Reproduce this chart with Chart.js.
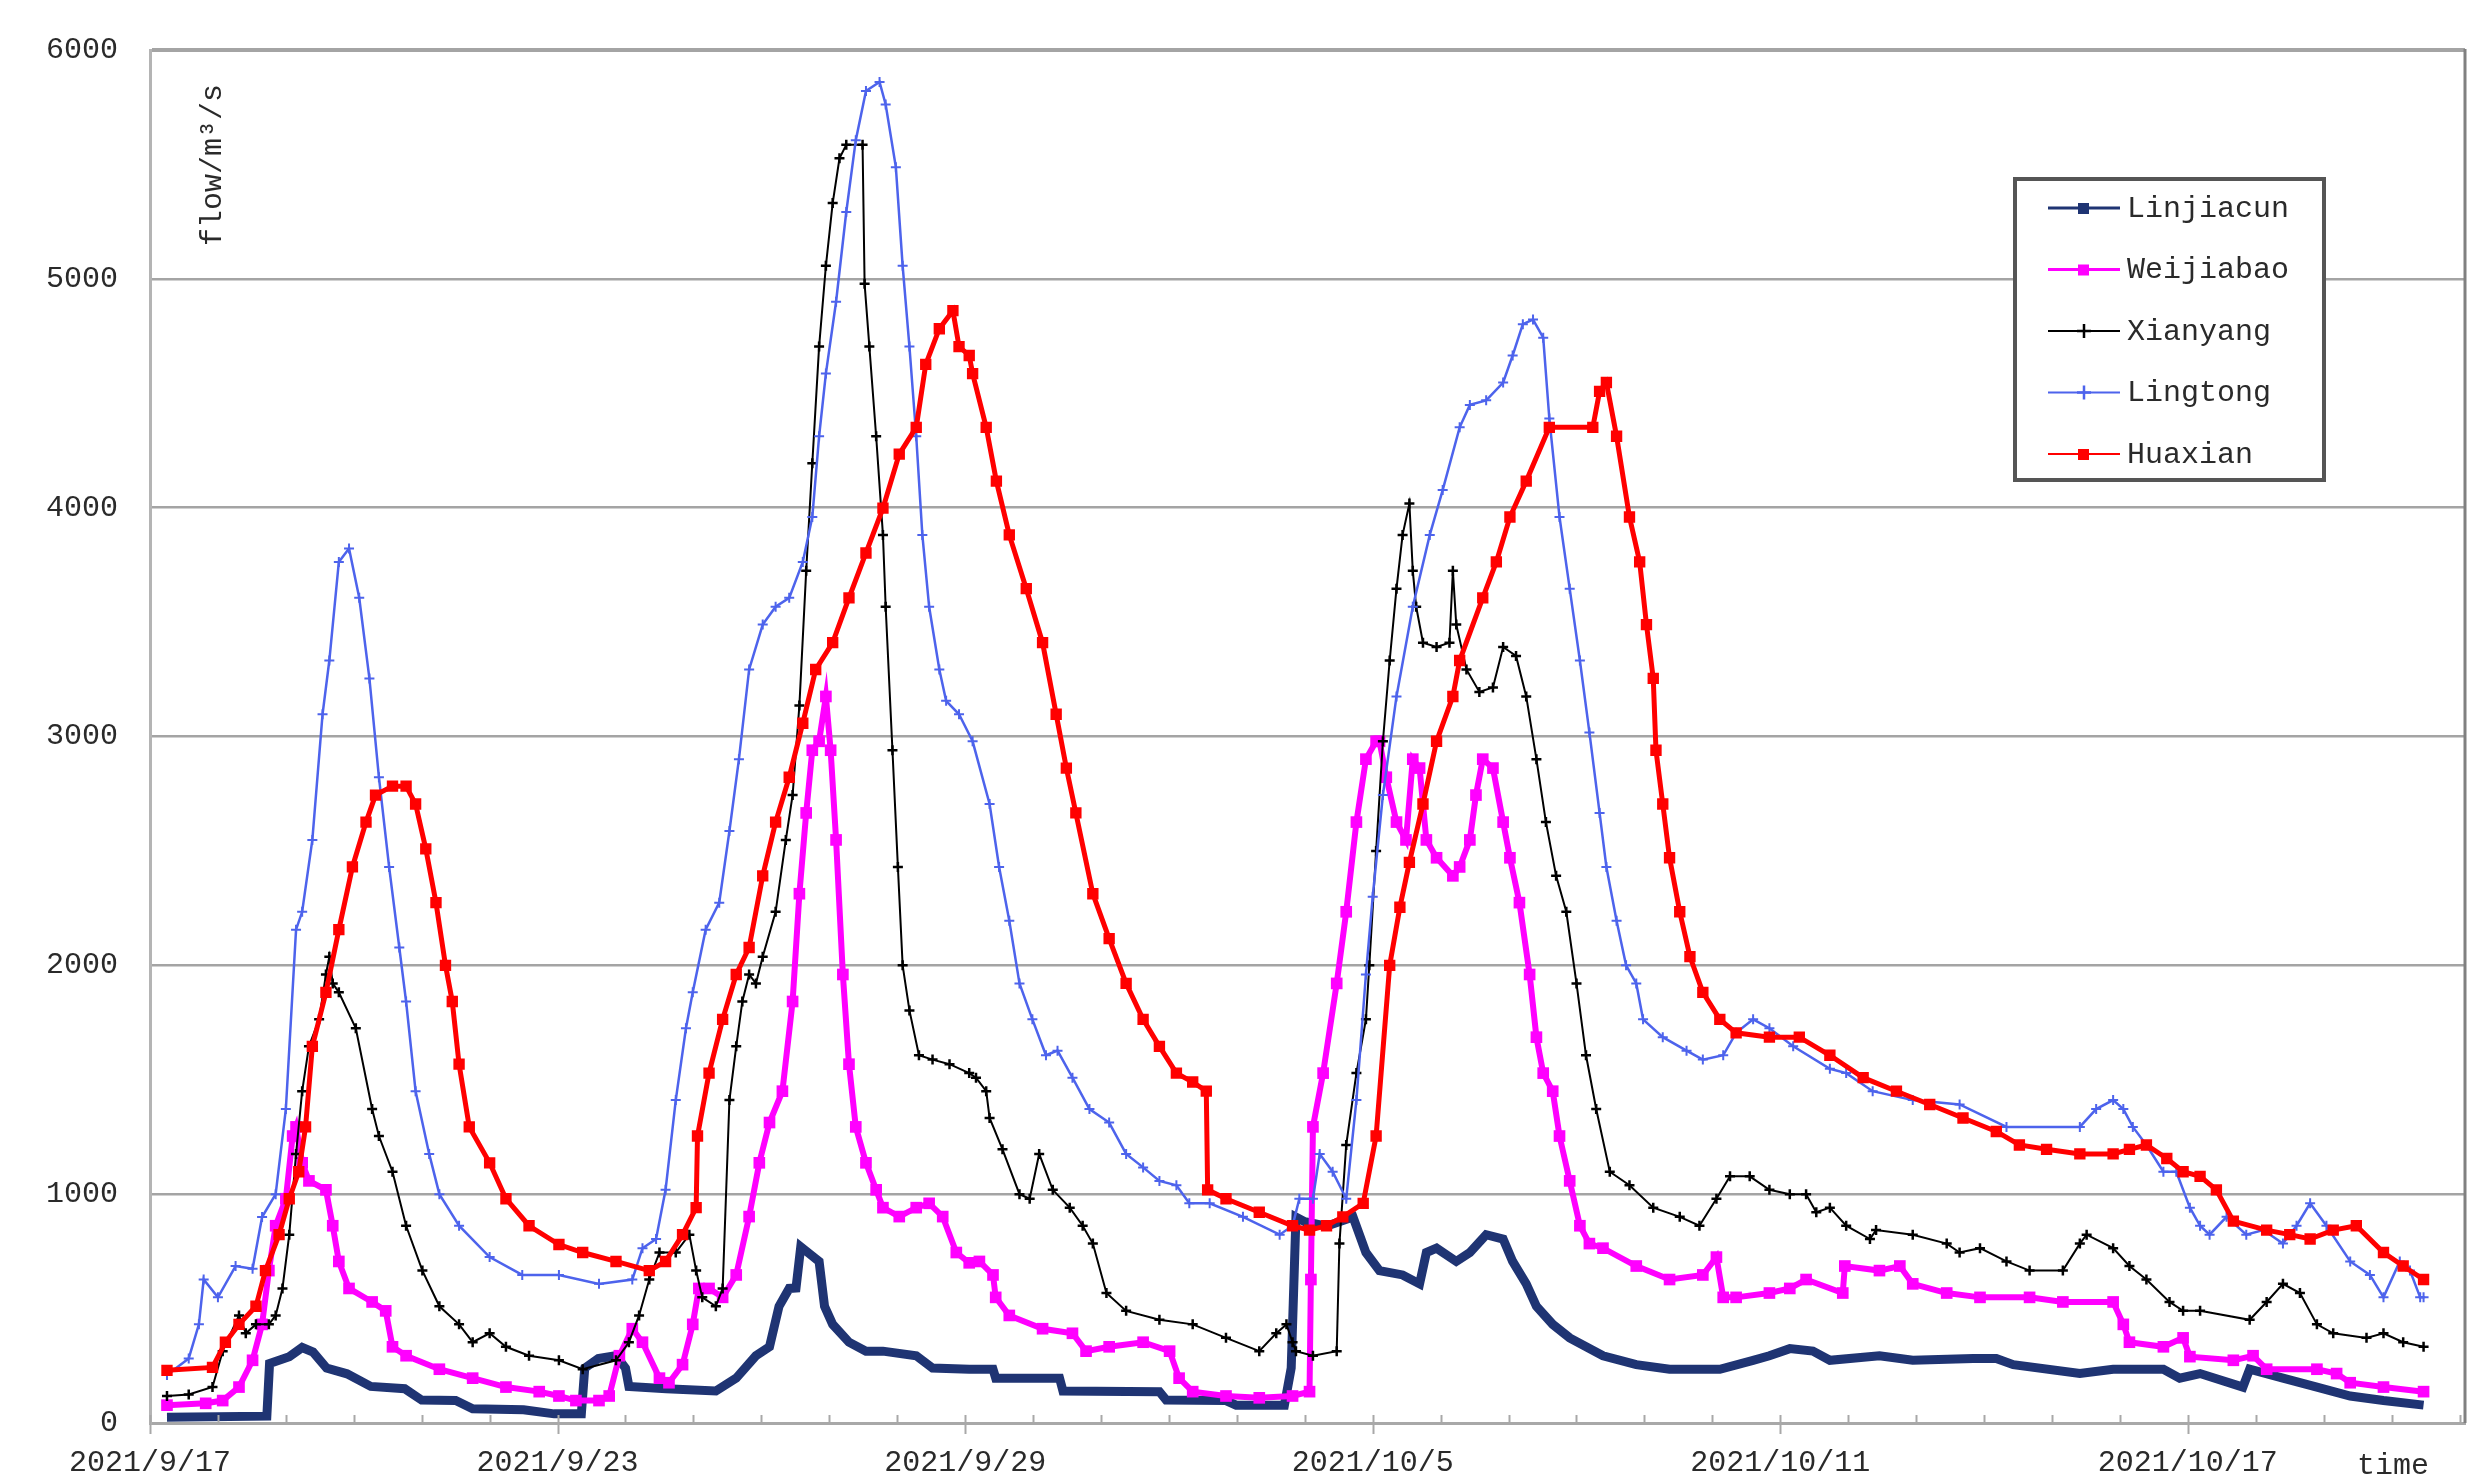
<!DOCTYPE html>
<html>
<head>
<meta charset="utf-8">
<script src="https://cdn.jsdelivr.net/npm/chart.js@4.4.1/dist/chart.umd.min.js"></script>
<style>
  html, body { margin: 0; padding: 0; background: #fff; }
  #wrap { position: relative; width: 2478px; height: 1480px; }
</style>
</head>
<body>
<div id="wrap"><canvas id="flowChart" width="2478" height="1480"></canvas></div>
<script>
// === FLOW HYDROGRAPH, 2021/9/17 - 2021/10/20 ===
// x = days since 2021/9/17 00:00, y = flow (m3/s)

var X_MAX = 34.08;
var xTickDays = [0, 6, 12, 18, 24, 30];
var xTickLabels = ['2021/9/17', '2021/9/23', '2021/9/29', '2021/10/5', '2021/10/11', '2021/10/17'];
var yMax = 6000;
var yStep = 1000;

var linjiacun = [
  [0.25, 25], [1.72, 30], [1.76, 260], [2.05, 290], [2.24, 330], [2.4, 310], [2.6, 240], [2.9, 215],
  [3.25, 160], [3.75, 150], [4.0, 100], [4.5, 98], [4.75, 62], [5.5, 58], [5.95, 40], [6.35, 40],
  [6.4, 240], [6.6, 282], [6.86, 294], [7.0, 240], [7.05, 160], [7.6, 150], [8.33, 140], [8.63, 196],
  [8.92, 294], [9.12, 333], [9.26, 510], [9.41, 588], [9.51, 590], [9.58, 770], [9.75, 730], [9.85, 706],
  [9.93, 510], [10.05, 431], [10.29, 353], [10.54, 314], [10.79, 314], [11.28, 294], [11.52, 240], [12.06, 235],
  [12.41, 235], [12.45, 196], [13.39, 196], [13.44, 140], [14.86, 137], [14.96, 100], [15.84, 98], [15.99, 78],
  [16.7, 78], [16.8, 240], [16.87, 900], [17.0, 880], [17.32, 860], [17.71, 900], [17.9, 745], [18.1, 666],
  [18.44, 647], [18.69, 608], [18.79, 745], [18.94, 764], [19.23, 706], [19.43, 745], [19.67, 823], [19.92, 804],
  [20.06, 706], [20.26, 608], [20.41, 510], [20.65, 431], [20.9, 372], [21.39, 294], [21.88, 255], [22.37, 235],
  [23.11, 235], [23.6, 274], [23.84, 294], [24.14, 325], [24.48, 314], [24.73, 274], [25.46, 294], [25.95, 274],
  [26.84, 282], [27.18, 282], [27.43, 255], [28.41, 216], [28.9, 235], [29.64, 235], [29.88, 196], [30.18, 216],
  [30.81, 157], [30.91, 235], [31.4, 196], [31.9, 157], [32.39, 118], [32.88, 98], [33.47, 78]
];

var weijiabao = [
  [0.25, 78], [0.82, 86], [1.07, 98], [1.31, 157], [1.51, 274], [1.65, 431], [1.75, 666], [1.85, 862],
  [2.0, 980], [2.1, 1254], [2.15, 1294], [2.24, 1137], [2.34, 1058], [2.59, 1019], [2.69, 862], [2.78, 706],
  [2.93, 588], [3.27, 529], [3.47, 490], [3.57, 333], [3.77, 294], [4.26, 235], [4.75, 196], [5.24, 157],
  [5.73, 137], [6.02, 118], [6.27, 98], [6.61, 98], [6.76, 118], [6.91, 294], [7.1, 412], [7.25, 353],
  [7.5, 196], [7.64, 176], [7.84, 255], [7.99, 431], [8.08, 588], [8.23, 588], [8.43, 549], [8.63, 647],
  [8.82, 902], [8.97, 1137], [9.12, 1313], [9.31, 1450], [9.46, 1842], [9.56, 2313], [9.66, 2666], [9.75, 2940],
  [9.85, 2979], [9.95, 3175], [10.02, 2940], [10.1, 2548], [10.2, 1960], [10.29, 1568], [10.39, 1294], [10.54, 1137],
  [10.69, 1019], [10.79, 941], [11.03, 902], [11.28, 941], [11.47, 960], [11.67, 902], [11.87, 745], [12.06, 700],
  [12.21, 706], [12.41, 647], [12.45, 549], [12.65, 470], [13.14, 412], [13.58, 392], [13.78, 314], [14.12, 333],
  [14.62, 353], [15.01, 314], [15.15, 196], [15.35, 137], [15.84, 118], [16.33, 110], [16.82, 118], [17.07, 137],
  [17.09, 627], [17.12, 1294], [17.27, 1529], [17.47, 1921], [17.61, 2234], [17.76, 2626], [17.9, 2901], [18.05, 2979],
  [18.1, 2979], [18.2, 2822], [18.35, 2626], [18.49, 2548], [18.59, 2901], [18.69, 2862], [18.79, 2548], [18.94, 2470],
  [19.18, 2391], [19.28, 2430], [19.43, 2548], [19.52, 2744], [19.62, 2901], [19.77, 2862], [19.92, 2626], [20.02, 2470],
  [20.16, 2274], [20.31, 1960], [20.41, 1686], [20.51, 1529], [20.65, 1450], [20.75, 1254], [20.9, 1058], [21.05, 862],
  [21.19, 784], [21.39, 764], [21.88, 686], [22.37, 627], [22.86, 647], [23.06, 725], [23.16, 549], [23.35, 549],
  [23.84, 568], [24.14, 588], [24.38, 627], [24.92, 568], [24.95, 686], [25.46, 666], [25.76, 686], [25.95, 608],
  [26.45, 568], [26.94, 549], [27.67, 549], [28.16, 529], [28.9, 529], [29.05, 431], [29.14, 353], [29.64, 333],
  [29.93, 372], [30.03, 290], [30.67, 274], [30.96, 294], [31.16, 235], [31.9, 235], [32.19, 216], [32.39, 176],
  [32.88, 157], [33.47, 137]
];

var xianyang = [
  [0.25, 118], [0.57, 125], [0.92, 157], [1.07, 314], [1.31, 470], [1.41, 392], [1.56, 431], [1.75, 431],
  [1.85, 470], [1.95, 588], [2.05, 823], [2.15, 1176], [2.24, 1450], [2.34, 1646], [2.49, 1764], [2.59, 1960],
  [2.64, 2038], [2.69, 1921], [2.78, 1882], [3.03, 1725], [3.27, 1372], [3.37, 1254], [3.57, 1098], [3.77, 862],
  [4.01, 666], [4.26, 510], [4.55, 431], [4.75, 353], [5.0, 392], [5.24, 333], [5.58, 294], [6.02, 274],
  [6.37, 235], [6.86, 274], [7.05, 353], [7.2, 470], [7.35, 627], [7.5, 745], [7.74, 745], [7.94, 823],
  [8.04, 666], [8.13, 549], [8.33, 510], [8.43, 588], [8.53, 1411], [8.63, 1646], [8.72, 1842], [8.82, 1960],
  [8.92, 1921], [9.02, 2038], [9.21, 2234], [9.36, 2548], [9.46, 2744], [9.56, 3136], [9.66, 3724], [9.75, 4194],
  [9.85, 4704], [9.95, 5057], [10.05, 5331], [10.15, 5527], [10.25, 5586], [10.49, 5586], [10.52, 4978], [10.59, 4704],
  [10.69, 4312], [10.79, 3881], [10.83, 3567], [10.93, 2940], [11.01, 2430], [11.08, 2000], [11.18, 1803], [11.32, 1607],
  [11.52, 1588], [11.77, 1568], [12.06, 1529], [12.16, 1509], [12.31, 1450], [12.36, 1333], [12.55, 1196], [12.8, 1000],
  [12.95, 980], [13.09, 1176], [13.29, 1019], [13.54, 941], [13.73, 862], [13.88, 784], [14.08, 568], [14.37, 490],
  [14.86, 451], [15.35, 431], [15.84, 372], [16.33, 314], [16.58, 392], [16.73, 431], [16.82, 353], [16.87, 314],
  [17.12, 294], [17.47, 314], [17.51, 784], [17.61, 1215], [17.76, 1529], [17.9, 1764], [17.95, 2000], [18.05, 2500],
  [18.15, 2979], [18.25, 3332], [18.35, 3646], [18.44, 3881], [18.54, 4018], [18.59, 3724], [18.64, 3567], [18.74, 3410],
  [18.94, 3391], [19.13, 3410], [19.18, 3724], [19.23, 3489], [19.38, 3293], [19.57, 3195], [19.77, 3214], [19.92, 3391],
  [20.11, 3352], [20.26, 3175], [20.41, 2901], [20.55, 2626], [20.7, 2391], [20.85, 2234], [21.0, 1921], [21.14, 1607],
  [21.29, 1372], [21.49, 1098], [21.78, 1039], [22.13, 941], [22.52, 901], [22.81, 862], [23.06, 980], [23.26, 1078],
  [23.55, 1078], [23.84, 1019], [24.14, 1000], [24.38, 1000], [24.53, 921], [24.73, 941], [24.97, 862], [25.32, 804],
  [25.41, 843], [25.95, 823], [26.45, 784], [26.64, 745], [26.94, 764], [27.33, 706], [27.67, 666], [28.16, 666],
  [28.41, 784], [28.51, 823], [28.9, 764], [29.14, 686], [29.39, 627], [29.73, 529], [29.93, 490], [30.18, 490],
  [30.91, 451], [31.16, 529], [31.4, 608], [31.65, 568], [31.9, 431], [32.14, 392], [32.63, 372], [32.88, 392],
  [33.17, 353], [33.47, 333]
];

var lingtong = [
  [0.25, 210], [0.57, 282], [0.72, 431], [0.79, 627], [1.0, 549], [1.26, 686], [1.51, 674], [1.65, 900],
  [1.85, 1000], [2.0, 1372], [2.15, 2156], [2.24, 2234], [2.39, 2548], [2.54, 3097], [2.64, 3332], [2.78, 3763],
  [2.93, 3822], [3.08, 3606], [3.23, 3254], [3.37, 2822], [3.52, 2430], [3.67, 2078], [3.77, 1842], [3.91, 1450],
  [4.11, 1176], [4.26, 1000], [4.55, 862], [5.0, 725], [5.48, 647], [6.02, 647], [6.61, 608], [7.1, 627],
  [7.25, 764], [7.45, 804], [7.59, 1019], [7.74, 1411], [7.89, 1725], [7.99, 1882], [8.18, 2156], [8.38, 2274],
  [8.53, 2587], [8.67, 2901], [8.82, 3293], [9.02, 3489], [9.21, 3567], [9.41, 3606], [9.61, 3763], [9.75, 3959],
  [9.85, 4312], [9.95, 4586], [10.1, 4900], [10.25, 5292], [10.39, 5606], [10.54, 5821], [10.74, 5860], [10.83, 5762],
  [10.98, 5488], [11.08, 5057], [11.18, 4704], [11.28, 4312], [11.37, 3881], [11.47, 3567], [11.62, 3293], [11.72, 3156],
  [11.91, 3097], [12.11, 2979], [12.36, 2705], [12.5, 2430], [12.65, 2195], [12.8, 1921], [12.99, 1764], [13.19, 1607],
  [13.36, 1627], [13.58, 1509], [13.83, 1372], [14.12, 1313], [14.37, 1176], [14.62, 1117], [14.86, 1058], [15.11, 1039],
  [15.3, 960], [15.6, 960], [16.09, 901], [16.63, 823], [16.82, 862], [16.92, 980], [17.12, 980], [17.22, 1176],
  [17.41, 1098], [17.61, 980], [17.76, 1411], [17.9, 1960], [18.0, 2300], [18.15, 2744], [18.35, 3175], [18.59, 3567],
  [18.84, 3881], [19.03, 4077], [19.28, 4351], [19.43, 4449], [19.67, 4469], [19.92, 4547], [20.06, 4665], [20.21, 4802],
  [20.36, 4822], [20.51, 4743], [20.6, 4390], [20.75, 3959], [20.9, 3646], [21.05, 3332], [21.19, 3018], [21.34, 2666],
  [21.44, 2430], [21.59, 2195], [21.73, 2000], [21.88, 1921], [21.98, 1764], [22.27, 1686], [22.62, 1627], [22.86, 1588],
  [23.16, 1607], [23.35, 1705], [23.6, 1764], [23.84, 1725], [24.19, 1646], [24.73, 1548], [24.97, 1529], [25.36, 1450],
  [25.95, 1411], [26.64, 1392], [27.33, 1294], [28.41, 1294], [28.65, 1372], [28.9, 1411], [29.05, 1372], [29.19, 1294],
  [29.39, 1215], [29.64, 1098], [29.83, 1098], [30.03, 941], [30.18, 862], [30.32, 823], [30.57, 901], [30.86, 823],
  [31.11, 843], [31.4, 784], [31.6, 862], [31.8, 960], [32.04, 862], [32.39, 706], [32.68, 647], [32.88, 549],
  [33.12, 706], [33.27, 666], [33.42, 549], [33.47, 549]
];

var huaxian = [
  [0.25, 230], [0.92, 243], [1.11, 353], [1.31, 431], [1.56, 510], [1.7, 666], [1.9, 823], [2.05, 980],
  [2.19, 1098], [2.29, 1294], [2.39, 1646], [2.59, 1882], [2.78, 2156], [2.98, 2430], [3.18, 2626], [3.32, 2744],
  [3.57, 2783], [3.77, 2783], [3.91, 2705], [4.06, 2509], [4.21, 2274], [4.35, 2000], [4.45, 1842], [4.55, 1568],
  [4.7, 1294], [5.0, 1137], [5.24, 980], [5.58, 862], [6.02, 780], [6.37, 745], [6.86, 706], [7.35, 666],
  [7.59, 706], [7.84, 823], [8.04, 941], [8.06, 1254], [8.23, 1529], [8.43, 1764], [8.63, 1960], [8.82, 2078],
  [9.02, 2391], [9.21, 2626], [9.41, 2822], [9.61, 3058], [9.8, 3293], [10.05, 3410], [10.29, 3606], [10.54, 3802],
  [10.79, 3998], [11.03, 4234], [11.28, 4351], [11.42, 4626], [11.62, 4782], [11.82, 4861], [11.91, 4704], [12.06, 4665],
  [12.11, 4586], [12.31, 4351], [12.46, 4116], [12.65, 3881], [12.9, 3646], [13.14, 3410], [13.34, 3097], [13.49, 2862],
  [13.63, 2666], [13.88, 2313], [14.12, 2117], [14.37, 1921], [14.62, 1764], [14.86, 1646], [15.11, 1529], [15.35, 1490],
  [15.55, 1450], [15.57, 1019], [15.84, 980], [16.33, 921], [16.82, 862], [17.07, 843], [17.32, 862], [17.56, 901],
  [17.86, 960], [18.05, 1254], [18.25, 2000], [18.4, 2254], [18.54, 2450], [18.74, 2705], [18.94, 2979], [19.18, 3175],
  [19.28, 3332], [19.62, 3606], [19.82, 3763], [20.02, 3959], [20.26, 4116], [20.6, 4351], [21.24, 4351], [21.34, 4508],
  [21.44, 4547], [21.59, 4312], [21.78, 3959], [21.93, 3763], [22.03, 3489], [22.13, 3254], [22.17, 2940], [22.27, 2705],
  [22.37, 2470], [22.52, 2234], [22.67, 2038], [22.86, 1882], [23.11, 1764], [23.35, 1705], [23.84, 1686], [24.28, 1686],
  [24.73, 1607], [25.22, 1509], [25.71, 1450], [26.2, 1392], [26.69, 1333], [27.18, 1274], [27.52, 1215], [27.92, 1196],
  [28.41, 1176], [28.9, 1176], [29.14, 1196], [29.39, 1215], [29.69, 1156], [29.93, 1098], [30.18, 1078], [30.42, 1019],
  [30.67, 882], [31.16, 843], [31.5, 823], [31.8, 804], [32.14, 843], [32.48, 862], [32.88, 745], [33.17, 686],
  [33.47, 627]
];

var FONT = 'Liberation Mono';
var TEXT_COLOR = '#2a2a2a';

function toPoints(pairs) {
  return pairs.map(function(p) { return { x: p[0], y: p[1] }; });
}

// White page, minor day ticks, right border, axis captions
var frameTicks = {
  id: 'frameTicks',
  beforeDraw: function(chart) {
    var ctx = chart.ctx;
    ctx.save();
    ctx.fillStyle = '#ffffff';
    ctx.fillRect(0, 0, chart.width, chart.height);
    ctx.restore();
  },
  afterDraw: function(chart) {
    var ctx = chart.ctx;
    var area = chart.chartArea;
    var xs = chart.scales.x;
    ctx.save();

    // right frame
    ctx.strokeStyle = '#808080';
    ctx.lineWidth = 3;
    ctx.beginPath();
    ctx.moveTo(area.right, area.top - 1);
    ctx.lineTo(area.right, area.bottom);
    ctx.stroke();

    // day ticks (majors cross the axis)
    ctx.strokeStyle = '#a8a8a8';
    ctx.lineWidth = 2;
    for (var d = 0; d <= Math.floor(X_MAX); d++) {
      var px = Math.round(xs.getPixelForValue(d)) + 0.5;
      var major = xTickDays.indexOf(d) >= 0;
      ctx.beginPath();
      ctx.moveTo(px, area.bottom - 8);
      ctx.lineTo(px, area.bottom + (major ? 11 : 0));
      ctx.stroke();
    }

    // axis captions
    ctx.fillStyle = TEXT_COLOR;
    ctx.font = '30px "' + FONT + '"';
    ctx.textAlign = 'center';
    ctx.textBaseline = 'middle';
    ctx.fillText('time', 2393, 1466);

    ctx.translate(213, 165);
    ctx.rotate(-Math.PI / 2);
    ctx.fillText('flow/m\u00b3/s', 0, 0);
    ctx.restore();
  }
};

// Boxed legend inside the plot, top right
var boxLegend = {
  id: 'boxLegend',
  afterDraw: function(chart) {
    var ctx = chart.ctx;
    var box = { left: 2015, top: 179, right: 2324, bottom: 480 };
    ctx.save();
    ctx.fillStyle = '#ffffff';
    ctx.fillRect(box.left, box.top, box.right - box.left, box.bottom - box.top);
    ctx.strokeStyle = '#555555';
    ctx.lineWidth = 4;
    ctx.strokeRect(box.left, box.top, box.right - box.left, box.bottom - box.top);

    chart.data.datasets.forEach(function(ds, i) {
      var y = 208 + i * 61.5;
      ctx.strokeStyle = ds.borderColor;
      ctx.lineWidth = ds.legendLine;
      ctx.beginPath();
      ctx.moveTo(2048, y);
      ctx.lineTo(2120, y);
      ctx.stroke();
      if (ds.pointStyle === 'rect') {
        ctx.fillStyle = ds.borderColor;
        ctx.fillRect(2078, y - 5, 11, 11);
      } else {
        ctx.lineWidth = 2.5;
        ctx.beginPath();
        ctx.moveTo(2077, y); ctx.lineTo(2091, y);
        ctx.moveTo(2084, y - 7); ctx.lineTo(2084, y + 7);
        ctx.stroke();
      }
      ctx.fillStyle = TEXT_COLOR;
      ctx.font = '30px "' + FONT + '"';
      ctx.textAlign = 'left';
      ctx.textBaseline = 'middle';
      ctx.fillText(ds.label, 2127, y + 1);
    });
    ctx.restore();
  }
};

var datasets = [
  {
    label: 'Linjiacun', data: toPoints(linjiacun),
    borderColor: '#1f3473', backgroundColor: '#1f3473',
    borderWidth: 9, pointRadius: 0, pointStyle: 'rect', legendLine: 3, order: 5
  },
  {
    label: 'Weijiabao', data: toPoints(weijiabao),
    borderColor: '#ff00ff', backgroundColor: '#ff00ff',
    borderWidth: 6, pointRadius: 4, pointStyle: 'rect', legendLine: 3, order: 4
  },
  {
    label: 'Xianyang', data: toPoints(xianyang),
    borderColor: '#000000', backgroundColor: '#000000',
    borderWidth: 2, pointRadius: 5, pointBorderWidth: 2.5, pointStyle: 'cross', legendLine: 2, order: 3
  },
  {
    label: 'Lingtong', data: toPoints(lingtong),
    borderColor: '#4d63ec', backgroundColor: '#4d63ec',
    borderWidth: 2.5, pointRadius: 5, pointBorderWidth: 2, pointStyle: 'cross', legendLine: 2, order: 2
  },
  {
    label: 'Huaxian', data: toPoints(huaxian),
    borderColor: '#ff0000', backgroundColor: '#ff0000',
    borderWidth: 5, pointRadius: 4.5, pointStyle: 'rect', legendLine: 2, order: 1
  }
];

new Chart(document.getElementById('flowChart'), {
  type: 'line',
  data: { datasets: datasets },
  plugins: [frameTicks, boxLegend],
  options: {
    responsive: false,
    devicePixelRatio: 1,
    animation: false,
    layout: { padding: { left: 0, right: 13, top: 47, bottom: 0 } },
    elements: { line: { tension: 0 } },
    plugins: {
      legend: { display: false },
      tooltip: { enabled: false }
    },
    scales: {
      x: {
        type: 'linear',
        min: 0,
        max: X_MAX,
        afterBuildTicks: function(scale) {
          scale.ticks = xTickDays.map(function(v) { return { value: v }; });
        },
        afterFit: function(scale) { scale.height = 57; },
        ticks: {
          autoSkip: false,
          maxRotation: 0,
          padding: 22,
          color: TEXT_COLOR,
          font: { family: FONT, size: 30 },
          callback: function(val) {
            var i = xTickDays.indexOf(val);
            return i >= 0 ? xTickLabels[i] : '';
          }
        },
        grid: { display: false, drawTicks: false },
        border: { display: true, color: '#a8a8a8', width: 3 }
      },
      y: {
        min: 0,
        max: yMax,
        afterFit: function(scale) { scale.width = 150; },
        ticks: {
          stepSize: yStep,
          padding: 32,
          color: TEXT_COLOR,
          font: { family: FONT, size: 30 },
          callback: function(val) { return String(val); }
        },
        grid: {
          color: '#a4a4a4',
          drawTicks: false,
          lineWidth: function(c) { return c.tick && c.tick.value === yMax ? 4 : 2.5; }
        },
        border: { display: true, color: '#b4b4b4', width: 3 }
      }
    }
  }
});
</script>
</body>
</html>
